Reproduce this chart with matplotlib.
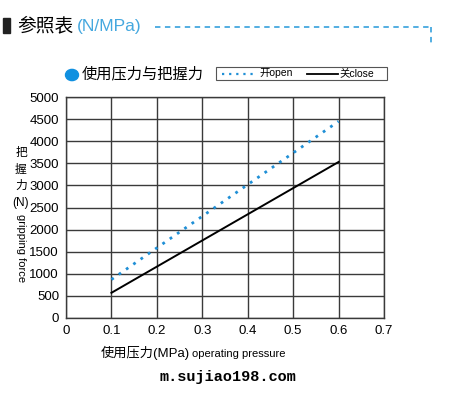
import matplotlib
matplotlib.use("Agg")
import matplotlib.pyplot as plt
from matplotlib.lines import Line2D
from matplotlib.patches import Rectangle, Circle

plt.rcParams["font.family"] = ["Liberation Sans", "Noto Sans CJK SC", "DejaVu Sans"]

# data
pressure = [0.1, 0.6]
force_open = [870, 4450]
force_close = [570, 3530]
x_ticks = [0, 0.1, 0.2, 0.3, 0.4, 0.5, 0.6, 0.7]
y_ticks = list(range(0, 5001, 500))

BLUE = "#1f8fd6"
LIGHT_BLUE = "#45a8df"
GRID = "#3a3a3a"

fig = plt.figure(figsize=(4.56, 3.93), dpi=100)
fig.patch.set_facecolor("white")
W, H = 456.0, 393.0


def fx(px):
    return px / W


def fy(py):
    return 1 - py / H


ax = fig.add_axes([fx(66), fy(318), fx(384) - fx(66), fy(97) - fy(318)])
ax.plot(pressure, force_open, color=BLUE, linestyle=(0, (1, 2.2)), lw=2.0)
ax.plot(pressure, force_close, color="black", lw=1.4)
ax.set_xlim(0, 0.7)
ax.set_ylim(0, 5000)
ax.set_xticks(x_ticks)
ax.set_xticklabels(["0"] + [f"{v:.1f}" for v in x_ticks[1:]])
ax.set_yticks(y_ticks)
ax.grid(True, color=GRID, lw=1.0)
ax.set_axisbelow(True)
ax.tick_params(length=0, labelsize=9.5, pad=5, colors="black")
for s in ax.spines.values():
    s.set_color(GRID)
    s.set_linewidth(1.0)

# title block
fig.patches.append(Rectangle((fx(3), fy(33)), fx(7), fy(18) - fy(33),
                             transform=fig.transFigure, color="#222222"))
fig.text(fx(17), fy(26), "参照表", fontsize=13.5, va="center", ha="left",
         family=["Noto Sans CJK SC"])
fig.text(fx(77), fy(26), "(N/MPa)", fontsize=12.5, va="center", ha="left",
         color=LIGHT_BLUE)
fig.lines.append(Line2D([fx(155), fx(431)], [fy(27), fy(27)],
                        transform=fig.transFigure, color=LIGHT_BLUE,
                        lw=1.3, linestyle=(0, (3, 2.5))))
fig.lines.append(Line2D([fx(431), fx(431)], [fy(27), fy(46)],
                        transform=fig.transFigure, color=LIGHT_BLUE,
                        lw=1.3, linestyle=(0, (3, 2.5))))

# chart heading + legend box
fig.patches.append(Circle((fx(72), fy(75)), 6.5 / W, transform=fig.transFigure,
                          color="#1090e0"))
fig.text(fx(82), fy(74), "使用压力与把握力", fontsize=11, va="center", ha="left",
         family=["Noto Sans CJK SC"])
fig.patches.append(Rectangle((fx(216), fy(80)), fx(387) - fx(216), fy(67) - fy(80),
                             transform=fig.transFigure, fill=False,
                             edgecolor="#555555", lw=0.8))
fig.lines.append(Line2D([fx(222), fx(256)], [fy(73.5), fy(73.5)],
                        transform=fig.transFigure, color=BLUE, lw=1.6,
                        linestyle=(0, (1, 2.2))))
fig.text(fx(259), fy(73.5), "开open", fontsize=7.5, va="center", ha="left")
fig.lines.append(Line2D([fx(307), fx(338)], [fy(73.5), fy(73.5)],
                        transform=fig.transFigure, color="black", lw=1.3))
fig.text(fx(339), fy(73.5), "关close", fontsize=7.5, va="center", ha="left")

# y label
for txt, py in [("把", 153), ("握", 170), ("力", 186), ("(N)", 203)]:
    fig.text(fx(21), fy(py), txt, fontsize=8.5, ha="center", va="center")
fig.text(fx(21), fy(248), "gripping force", fontsize=8, ha="center",
         va="center", rotation=270)

# x label
fig.text(fx(190), fy(353), "使用压力(MPa)", fontsize=9.5, ha="right", va="center")
fig.text(fx(192), fy(354), "operating pressure", fontsize=8, ha="left", va="center")

# watermark
fig.text(fx(228), fy(377), "m.sujiao198.com", fontsize=11, ha="center",
         va="center", family="Liberation Mono", fontweight="bold")

fig.savefig("out.png", dpi=100, facecolor="white")
